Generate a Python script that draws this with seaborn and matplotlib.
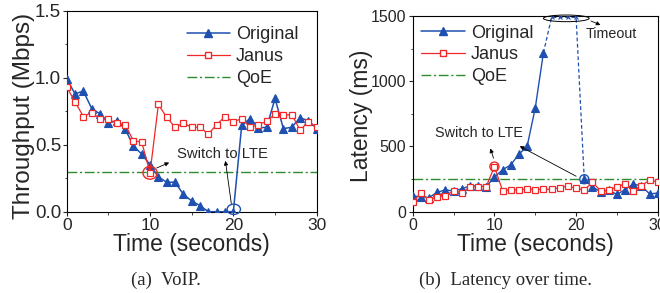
import numpy as np
import pandas as pd
import matplotlib
matplotlib.use("Agg")
import matplotlib.pyplot as plt
import seaborn as sns
from matplotlib.lines import Line2D
from matplotlib.patches import Ellipse
from matplotlib.ticker import MultipleLocator

# ---------------- data ----------------
time = list(range(31))
voip_original = [0.99, 0.88, 0.90, 0.77, 0.73, 0.66, 0.68, 0.62, 0.49, 0.43,
                 0.35, 0.26, 0.22, 0.22, 0.13, 0.08, 0.045, 0.0, 0.0, 0.0,
                 0.0, 0.645, 0.695, 0.625, 0.63, 0.845, 0.62, 0.63, 0.70, 0.68, 0.62]
voip_janus = [0.93, 0.82, 0.71, 0.74, 0.695, 0.69, 0.66, 0.65, 0.53, 0.52,
              0.29, 0.80, 0.705, 0.63, 0.66, 0.63, 0.63, 0.58, 0.65, 0.71,
              0.67, 0.695, 0.63, 0.65, 0.675, 0.73, 0.72, 0.725, 0.61, 0.67, 0.63]
voip_qoe = 0.3

lat_time_a = list(range(0, 17))
lat_original_a = [120, 115, 108, 149, 167, 159, 175, 198, 198, 192,
                  265, 321, 359, 441, 500, 795, 1218]
lat_time_timeout = [16, 17, 18, 19, 20, 21]
lat_original_timeout = [1218, 1490, 1490, 1490, 1490, 249]
lat_time_b = list(range(21, 31))
lat_original_b = [249, 190, 152, 165, 132, 170, 212, 198, 136, 143]
lat_janus = [77, 141, 90, 115, 121, 162, 146, 188, 192, 192,
             346, 162, 167, 167, 175, 170, 172, 172, 185, 195,
             180, 167, 225, 160, 167, 190, 215, 162, 200, 242, 228]
lat_qoe = 250

BLUE = "#1f50b0"
RED = "#f02828"
GREEN = "#2e8b2e"
QOE_DASH = (0, (7, 2, 1.5, 2))

sns.set_theme(style="ticks")
plt.rcParams["font.family"] = ["Liberation Sans", "DejaVu Sans"]

fig = plt.figure(figsize=(6.6, 2.93), dpi=100)
H = 293.0
W = 660.0
ax1 = fig.add_axes([66.7 / W, (H - 211.7) / H, 250 / W, 201 / H])
ax2 = fig.add_axes([412.7 / W, (H - 211.7) / H, 245.1 / W, 195.7 / H])

mk = dict(markersize=5.5)

# ---------------- left: VoIP ----------------
sns.lineplot(x=time, y=voip_original, ax=ax1, color=BLUE, lw=1.1, marker="^",
             markerfacecolor=BLUE, markeredgecolor=BLUE, markeredgewidth=0.8,
             zorder=3, **mk)
sns.lineplot(x=time, y=voip_janus, ax=ax1, color=RED, lw=0.9, marker="s",
             markerfacecolor="white", markeredgecolor=RED, markeredgewidth=0.9,
             markersize=4.5, zorder=4)
ax1.axhline(voip_qoe, color=GREEN, lw=1.0, ls=QOE_DASH, zorder=2)

ax1.set_xlim(0, 30)
ax1.set_ylim(0, 1.5)
ax1.xaxis.set_major_locator(MultipleLocator(10))
ax1.xaxis.set_minor_locator(MultipleLocator(5))
ax1.yaxis.set_major_locator(MultipleLocator(0.5))
ax1.yaxis.set_minor_locator(MultipleLocator(0.25))
ax1.set_yticklabels([f"{v:.1f}" for v in ax1.get_yticks()])
ax1.tick_params(axis="y", labelsize=13.5, length=3, width=0.8, pad=1)
ax1.tick_params(axis="x", labelsize=12.5, length=3, width=0.8, pad=1.5)
ax1.tick_params(which="minor", length=1.8, width=0.6)
ax1.set_xlabel("Time (seconds)", fontsize=16.5, labelpad=0)
ax1.set_ylabel("Throughput (Mbps)", fontsize=17.5)
ax1.yaxis.set_label_coords(-0.125, 0.474)

ax1.add_patch(Ellipse((10, 0.29), 1.7, 0.095, fill=False, ec=RED, lw=1.0,
                      zorder=5, clip_on=False))
ax1.add_patch(Ellipse((20.05, 0.018), 1.6, 0.077, fill=False, ec=BLUE, lw=1.0,
                      zorder=5, clip_on=False))
ax1.text(18.7, 0.43, "Switch to LTE", fontsize=10.7, ha="center", va="center")
arw = dict(arrowstyle="-|>", color="black", lw=0.6, mutation_scale=6)
ax1.annotate("", xy=(12.6, 0.375), xytext=(10.5, 0.318), arrowprops=arw)
ax1.annotate("", xy=(19.0, 0.40), xytext=(19.8, 0.04), arrowprops=arw)

handles = [
    Line2D([], [], color=BLUE, lw=1.1, marker="^", markersize=5.5,
           markerfacecolor=BLUE, markeredgecolor=BLUE),
    Line2D([], [], color=RED, lw=0.9, marker="s", markersize=4.5,
           markerfacecolor="white", markeredgecolor=RED),
    Line2D([], [], color=GREEN, lw=1.0, ls=QOE_DASH),
]
labels = ["Original", "Janus", "QoE"]
ax1.legend(handles, labels, loc="upper left", bbox_to_anchor=(0.465, 0.94),
           frameon=False, fontsize=13, handlelength=2.4, handletextpad=0.35,
           labelspacing=0.27, borderaxespad=0, borderpad=0.2)

# ---------------- right: latency ----------------
sns.lineplot(x=lat_time_a, y=lat_original_a, ax=ax2, color=BLUE, lw=1.0,
             marker="^", markerfacecolor=BLUE, markeredgecolor=BLUE,
             markeredgewidth=0.8, markersize=5.5, zorder=3)
sns.lineplot(x=lat_time_b, y=lat_original_b, ax=ax2, color=BLUE, lw=1.0,
             marker="^", markerfacecolor=BLUE, markeredgecolor=BLUE,
             markeredgewidth=0.8, markersize=5.5, zorder=3)
sns.lineplot(x=lat_time_timeout, y=lat_original_timeout, ax=ax2, color=BLUE,
             lw=0.9, ls=(0, (3, 2)), zorder=2)
sns.lineplot(x=lat_time_timeout[1:-1], y=lat_original_timeout[1:-1], ax=ax2,
             color=BLUE, lw=0, marker="x", markersize=3,
             markeredgecolor=BLUE, markeredgewidth=0.8, zorder=3)
sns.lineplot(x=time, y=lat_janus, ax=ax2, color=RED, lw=0.9, marker="s",
             markerfacecolor="white", markeredgecolor=RED, markeredgewidth=0.9,
             markersize=4.5, zorder=4)
ax2.axhline(lat_qoe, color=GREEN, lw=1.0, ls=QOE_DASH, zorder=2)

ax2.set_xlim(0, 30)
ax2.set_ylim(0, 1500)
ax2.xaxis.set_major_locator(MultipleLocator(10))
ax2.xaxis.set_minor_locator(MultipleLocator(5))
ax2.yaxis.set_major_locator(MultipleLocator(500))
ax2.yaxis.set_minor_locator(MultipleLocator(250))
ax2.tick_params(axis="both", labelsize=11.5, length=3, width=0.8, pad=1.5)
ax2.tick_params(which="minor", length=1.8, width=0.6)
ax2.set_xlabel("Time (seconds)", fontsize=16.5, labelpad=0)
ax2.set_ylabel("Latency (ms)", fontsize=16.5)
ax2.yaxis.set_label_coords(-0.16, 0.489)

ax2.add_patch(Ellipse((10, 346), 1.1, 69, fill=False, ec=RED, lw=1.0, zorder=5))
ax2.add_patch(Ellipse((21, 249), 1.1, 69, fill=False, ec=BLUE, lw=1.0, zorder=5))
ax2.add_patch(Ellipse((18.8, 1482), 5.6, 51, fill=False, ec="black", lw=0.7,
                      zorder=5, clip_on=False))
ax2.text(8.1, 601, "Switch to LTE", fontsize=10.4, ha="center", va="center")
ax2.text(24.3, 1359, "Timeout", fontsize=10.3, ha="center", va="center")
ax2.annotate("", xy=(9.4, 505), xytext=(10.0, 390), arrowprops=arw)
ax2.annotate("", xy=(12.8, 512), xytext=(20.3, 262), arrowprops=arw)
ax2.annotate("", xy=(23.3, 1423), xytext=(21.5, 1470), arrowprops=arw)

ax2.legend(handles, labels, loc="upper left", bbox_to_anchor=(0.02, 0.975),
           frameon=False, fontsize=13, handlelength=2.4, handletextpad=0.35,
           labelspacing=0.27, borderaxespad=0, borderpad=0.2)

for ax in (ax1, ax2):
    for s in ax.spines.values():
        s.set_visible(True)
        s.set_linewidth(0.8)
        s.set_color("black")

fig.text(165.8 / W, 1 - 280 / H, "(a)  VoIP.", family="Liberation Serif",
         fontsize=13.5, ha="center", va="center")
fig.text(505.5 / W, 1 - 280 / H, "(b)  Latency over time.", family="Liberation Serif",
         fontsize=13.5, ha="center", va="center")

fig.savefig("out.png", dpi=100)
